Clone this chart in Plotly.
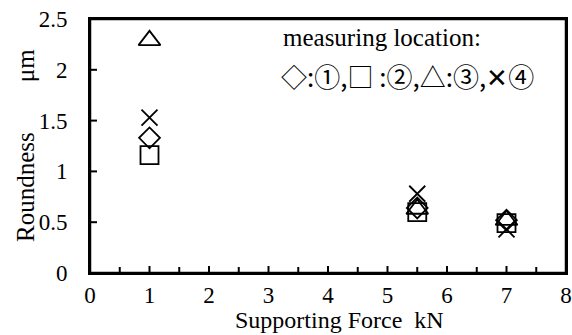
import plotly.graph_objects as go

force = [1, 5.5, 7]
loc1 = [1.33, 0.64, 0.52]   # diamond
loc2 = [1.16, 0.60, 0.49]   # square
loc3 = [2.29, 0.63, 0.52]   # triangle
loc4 = [1.53, 0.78, 0.43]   # x

x_range = [0, 8]
y_range = [0, 2.5]

FONT = "Liberation Serif"
TICK = 23
TXT = 25

fig = go.Figure()
specs = [(loc1, "diamond-open", 16, "x", "y"), (loc2, "square-open", 18, "x", "y"),
         (loc3, "triangle-up-open", 19, "x", "y"), (loc4, "x-thin-open", 16, "x2", "y2")]
for ys, sym, sz, xa, ya in specs:
    fig.add_trace(go.Scatter(
        x=force, y=ys, mode="markers", xaxis=xa, yaxis=ya,
        marker=dict(symbol=sym, size=sz, color="black",
                    line=dict(color="black", width=1.8)),
        showlegend=False))

fig.update_layout(
    template="none",
    width=572, height=335,
    margin=dict(l=90, r=6, t=19, b=62),
    paper_bgcolor="white", plot_bgcolor="white",
    font=dict(family=FONT, size=TICK, color="black"),
    xaxis=dict(range=x_range, dtick=1, tick0=0, ticks="inside",
               ticklen=7, tickwidth=2, tickcolor="black",
               showgrid=False, zeroline=False,
               showline=True, linecolor="black", linewidth=2, mirror=True,
               minor=dict(dtick=0.5, tick0=0, ticks="inside", ticklen=6,
                          tickwidth=2, tickcolor="black", showgrid=False),
               tickfont=dict(family=FONT, size=TICK)),
    yaxis=dict(range=y_range, dtick=0.5, tick0=0,
               ticks="inside", ticklen=7, tickwidth=2, tickcolor="black",
               showgrid=False,
               zeroline=False, showline=True, linecolor="black", linewidth=2,
               mirror=True, ticklabelstandoff=16,
               tickfont=dict(family=FONT, size=TICK)),
    # overlay axes whose grid lines at the range ends form the plot frame
    xaxis2=dict(overlaying="x", range=x_range, tickvals=x_range,
                showticklabels=False, ticks="", showgrid=True,
                gridcolor="black", gridwidth=2.5, zeroline=False,
                showline=False),
    yaxis2=dict(overlaying="y", range=y_range, tickvals=y_range,
                showticklabels=False, ticks="", showgrid=True,
                gridcolor="black", gridwidth=2.5, zeroline=False,
                showline=False),
    shapes=[
        dict(type="rect", xref="paper", yref="paper", xsizemode="pixel", xanchor=0,
             x0=-1.25, x1=1.25, y0=0, y1=1, fillcolor="black", line=dict(width=0)),
        dict(type="rect", xref="paper", yref="paper", xsizemode="pixel", xanchor=1,
             x0=-1.25, x1=1.25, y0=0, y1=1, fillcolor="black", line=dict(width=0)),
        dict(type="rect", xref="paper", yref="paper", ysizemode="pixel", yanchor=0,
             y0=-1.25, y1=1.25, x0=0, x1=1, fillcolor="black", line=dict(width=0)),
        dict(type="rect", xref="paper", yref="paper", ysizemode="pixel", yanchor=1,
             y0=-1.25, y1=1.25, x0=0, x1=1, fillcolor="black", line=dict(width=0)),
    ],
)

fig.add_annotation(xref="paper", yref="paper", x=0.5, xshift=11, y=0, yshift=-47,
                   text="Supporting Force\u00a0\u00a0kN", showarrow=False,
                   font=dict(family=FONT, size=24), xanchor="center",
                   yanchor="middle")
fig.add_annotation(xref="paper", yref="paper", x=0, xshift=-65, y=0.5,
                   text="Roundness\u00a0\u00a0\u00a0\u00a0\u00a0\u00a0\u00a0\u00a0μm",
                   textangle=-90, showarrow=False,
                   font=dict(family=FONT, size=TXT), xanchor="center",
                   yanchor="middle")
fig.add_annotation(xref="paper", yref="paper", x=(281 - 90) / 476, y=(273 - 37) / 254,
                   text="measuring location:", showarrow=False,
                   font=dict(family=FONT, size=TXT), xanchor="left",
                   yanchor="middle")
fig.add_annotation(xref="paper", yref="paper", x=(279 - 90) / 476, y=(273 - 75) / 254,
                   text="◇:①,□ :②,△:③,✕④", showarrow=False,
                   font=dict(family="Noto Sans CJK JP", size=26, color="black"),
                   xanchor="left", yanchor="middle")

post = ("document.body.style.margin='0';"
        "var s=document.createElement('style');"
        "s.textContent='.js-plotly-plot .plotly path, .js-plotly-plot .plotly .crisp"
        "{shape-rendering:auto !important; vector-effect:none !important}';"
        "document.head.appendChild(s);")
fig.write_html("out.html", post_script=post, config={"displayModeBar": False})
